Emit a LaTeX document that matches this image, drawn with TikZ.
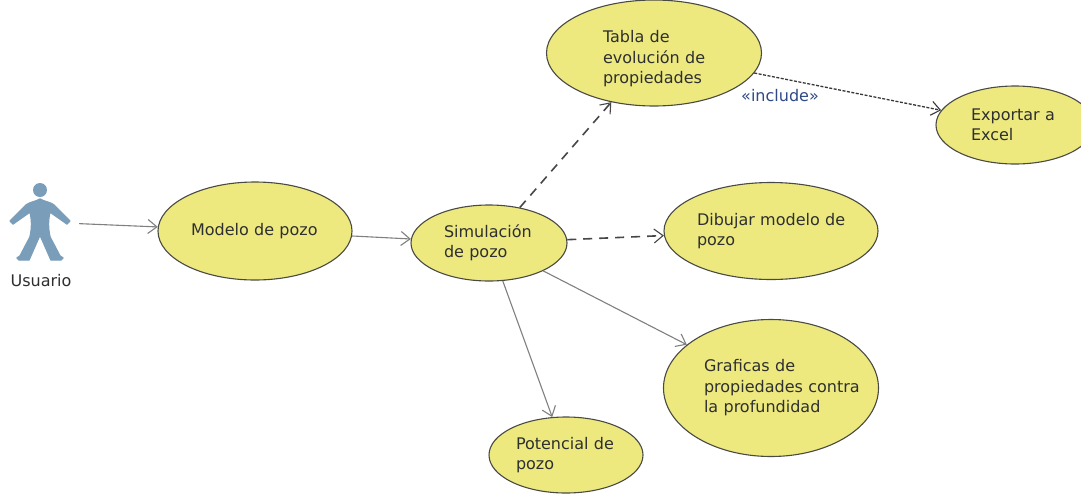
\documentclass[tikz,border=0pt]{standalone}
\usepackage{fontspec}
\setmainfont{DejaVu Sans}
\usetikzlibrary{shapes.geometric,arrows.meta}
\definecolor{ucfill}{HTML}{EDE97F}
\definecolor{ucline}{HTML}{4A4A45}
\definecolor{actorblue}{HTML}{7A9DB9}
\definecolor{txt}{HTML}{2E3030}
\definecolor{incl}{HTML}{2F4A86}
\tikzset{
  x=1pt,y=-1pt,
  uc/.style={ellipse,draw=ucline,fill=ucfill,line width=1.1pt,inner sep=0pt,align=left,text=txt,font=\fontsize{16}{20.5}\selectfont},
  solidlink/.style={draw=black!50,line width=1.1pt,-{Straight Barb[length=9pt,width=14pt,line width=1.1pt]}},
  dashlink/.style={draw=black!72,line width=1.6pt,dash pattern=on 9pt off 7pt,-{Straight Barb[length=9pt,width=14pt,line width=1.1pt]}},
  finelink/.style={draw=black!78,line width=1.3pt,dash pattern=on 3pt off 1.5pt,-{Straight Barb[length=9pt,width=14pt,line width=1.1pt]}},
  plain/.style={inner sep=0pt,align=left,text=txt,font=\fontsize{16}{20.5}\selectfont}
}
\begin{document}
\begin{tikzpicture}
\clip (0,0) rectangle (1081,493);
\fill[white] (0,0) rectangle (1081,493);
% actor
\fill[actorblue] (40,190) circle (7);
\filldraw[actorblue,line width=1.4pt,line join=round]
  (40,199) .. controls (45,202) and (50,202) .. (54,205)
  -- (70,221) -- (67,224) -- (50,212)
  .. controls (48,220) and (48,228) .. (50,237)
  -- (60,256) -- (63,258) -- (61,260) -- (51,260)
  -- (40,235)
  -- (29,260) -- (19,260) -- (17,258) -- (20,256) -- (30,237)
  .. controls (32,228) and (32,220) .. (30,212)
  -- (13,224) -- (10,221) -- (26,205)
  .. controls (30,202) and (35,202) .. (40,199) -- cycle;
\node[inner sep=0pt,minimum width=78pt,minimum height=80pt] (actor) at (40,222) {};
\node[plain] (usuario) at (41,281) {Usuario};
% use cases
\node[uc,minimum width=194pt,minimum height=98pt,text width=128pt] (modelo) at (255,231) {\mbox{Modelo de pozo}};
\node[uc,minimum width=156pt,minimum height=76pt,text width=90pt] (sim) at (489,243) {\mbox{Simulación}\\de pozo};
\node[uc,minimum width=215pt,minimum height=106pt,text width=102pt] (tabla) at (654,53) {\rule{0pt}{24pt}Tabla de\\\mbox{evolución de}\\\mbox{propiedades}};
\node[uc,minimum width=158pt,minimum height=78pt,text width=88pt] (exportar) at (1015,125) {\mbox{Exportar a}\\Excel};
\node[uc,minimum width=214pt,minimum height=97pt,text width=148pt] (dibujar) at (771,231) {\mbox{Dibujar modelo de}\\pozo};
\node[uc,minimum width=215pt,minimum height=137pt,text width=150pt] (graficas) at (771,388) {\mbox{\hspace*{8pt}Graficas de}\\\mbox{\hspace*{8pt}propiedades contra}\\\mbox{\hspace*{8pt}la profundidad}};
\node[uc,minimum width=154pt,minimum height=76pt,text width=100pt] (potencial) at (566,455) {\mbox{Potencial de}\\pozo};
% connectors
\draw[solidlink] (actor) -- (modelo);
\draw[solidlink] (modelo) -- (sim);
\draw[dashlink] (sim) -- (tabla);
\draw[dashlink] (sim) -- (dibujar);
\draw[solidlink] (sim) -- (graficas);
\draw[solidlink] (sim) -- (potencial);
\draw[finelink] (tabla) -- (exportar);
\node[inner sep=0pt,text=incl,font=\fontsize{16}{16}\selectfont] (inc) at (780,96) {«include»};
\end{tikzpicture}
\end{document}
